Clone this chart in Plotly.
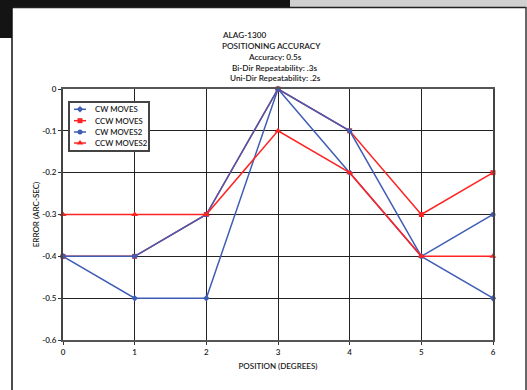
import plotly.graph_objects as go

positions = [0, 1, 2, 3, 4, 5, 6]
cw_moves = [-0.4, -0.5, -0.5, 0.0, -0.2, -0.4, -0.5]
ccw_moves = [-0.4, -0.4, -0.3, 0.0, -0.1, -0.3, -0.2]
cw_moves2 = [-0.4, -0.4, -0.3, 0.0, -0.1, -0.4, -0.3]
ccw_moves2 = [-0.3, -0.3, -0.3, -0.1, -0.2, -0.4, -0.4]

series_names = ["CW MOVES", "CCW MOVES", "CW MOVES2", "CCW MOVES2"]

y_ticks = [0, -0.1, -0.2, -0.3, -0.4, -0.5, -0.6]
y_tick_labels = ["0", "-0.1", "-0.2", "-0.3", "-0.4", "-0.5", "-0.6"]

title_lines_left = ["ALAG-1300", "POSITIONING ACCURACY"]
title_lines_center = ["Accuracy: 0.5s", "Bi-Dir Repeatability: .3s", "Uni-Dir Repeatability: .2s"]

BLUE = "#3f5db5"
RED = "#ff2424"
FONT = "Lato"
WT = 600
TXT = "#1a1a1a"
W, H = 527, 390
L, R, T, B = 63, 493, 89, 340

# legend box (pixels)
LG_L, LG_R, LG_T, LG_B = 70, 148, 103, 150
LG_ROWS = [109.3, 120.7, 132.0, 143.0]


def px(x):
    return (x - L) / (R - L)


def py(y):
    return (B - y) / (B - T)


def fnt(size):
    return dict(family=FONT, size=size, color=TXT, weight=WT)


fig = go.Figure()
styles = [
    (cw_moves, BLUE, "diamond", 5),
    (ccw_moves, RED, "square", 5),
    (cw_moves2, BLUE, "circle", 5),
    (ccw_moves2, RED, "triangle-up", 6),
]
for name, (vals, col, sym, sz) in zip(series_names, styles):
    fig.add_trace(go.Scatter(
        x=positions, y=vals, name=name, mode="lines+markers",
        line=dict(color=col, width=1.5),
        marker=dict(color=col, symbol=sym, size=sz),
        cliponaxis=False, showlegend=False,
    ))

# legend drawn as an inset subplot (x2/y2 in pixel-like units)
annotations = []
for name, (vals, col, sym, sz), yy in zip(series_names, styles, LG_ROWS):
    fig.add_trace(go.Scatter(
        x=[74, 80, 86], y=[yy, yy, yy], mode="lines", xaxis="x2", yaxis="y2",
        line=dict(color=col, width=1.5), showlegend=False, hoverinfo="skip",
    ))
    fig.add_trace(go.Scatter(
        x=[80], y=[yy], mode="markers", xaxis="x2", yaxis="y2",
        marker=dict(color=col, symbol=sym, size=sz), showlegend=False, hoverinfo="skip",
    ))
    annotations.append(dict(text=name, xref="x2", yref="y2", x=92.5, y=yy,
                            xanchor="left", yanchor="middle", showarrow=False,
                            font=fnt(7.8)))

shapes = [
    dict(type="rect", xref="paper", yref="paper", x0=px(0), x1=px(290), y0=py(7), y1=py(0),
         fillcolor="#141414", line=dict(width=0), layer="below"),
    dict(type="rect", xref="paper", yref="paper", x0=px(290), x1=px(527), y0=py(7), y1=py(0),
         fillcolor="#d0d0d0", line=dict(width=0), layer="below"),
    dict(type="rect", xref="paper", yref="paper", x0=px(0), x1=px(12), y0=py(38), y1=py(0),
         fillcolor="#141414", line=dict(width=0), layer="below"),
    dict(type="line", xref="paper", yref="paper", x0=px(12), x1=px(526), y0=py(7.5), y1=py(7.5),
         line=dict(color="#222", width=1.5)),
    dict(type="line", xref="paper", yref="paper", x0=px(12), x1=px(12), y0=py(7), y1=py(390),
         line=dict(color="#111", width=1.5)),
    dict(type="line", xref="paper", yref="paper", x0=px(526), x1=px(526), y0=py(7), y1=py(390),
         line=dict(color="#333", width=1.5)),
]

for txt, yy in zip(title_lines_left, [35, 46]):
    annotations.append(dict(text=txt, xref="paper", yref="paper", x=px(220), y=py(yy),
                            xanchor="left", yanchor="middle", showarrow=False,
                            font=fnt(8.2)))
for txt, yy in zip(title_lines_center, [57, 67.5, 78]):
    annotations.append(dict(text=txt, xref="paper", yref="paper", x=px(275), y=py(yy),
                            xanchor="center", yanchor="middle", showarrow=False,
                            font=fnt(8.2)))

fig.update_layout(
    width=W, height=H,
    margin=dict(l=L, r=W - R, t=T, b=H - B, autoexpand=False),
    paper_bgcolor="white", plot_bgcolor="white",
    font=fnt(8),
    shapes=shapes, annotations=annotations,
    showlegend=False,
    xaxis=dict(domain=[0, 1], anchor="y", range=[0, 6], tickvals=positions,
               ticktext=[str(p) for p in positions],
               showgrid=True, gridcolor="#222", gridwidth=1,
               showline=True, linecolor="#555", linewidth=2, mirror=True,
               ticks="outside", ticklen=3, tickcolor="#333",
               zeroline=False,
               title=dict(text="POSITION (DEGREES)", font=fnt(8), standoff=8),
               tickfont=fnt(8)),
    yaxis=dict(domain=[0, 1], anchor="x", range=[-0.6, 0], tickvals=y_ticks,
               ticktext=y_tick_labels,
               showgrid=True, gridcolor="#222", gridwidth=1,
               showline=True, linecolor="#444", linewidth=2, mirror=True,
               ticks="outside", ticklen=3, tickcolor="#333",
               zeroline=False,
               title=dict(text="ERROR (ARC-SEC)", font=fnt(8), standoff=1),
               tickfont=fnt(8)),
    xaxis2=dict(domain=[px(LG_L), px(LG_R)], anchor="y2", range=[LG_L, LG_R],
                showgrid=False, zeroline=False, showticklabels=False, ticks="",
                showline=True, linecolor="#444", linewidth=1.5, mirror=True, fixedrange=True),
    yaxis2=dict(domain=[py(LG_B), py(LG_T)], anchor="x2", range=[LG_B, LG_T],
                showgrid=False, zeroline=False, showticklabels=False, ticks="",
                showline=True, linecolor="#444", linewidth=1.5, mirror=True, fixedrange=True),
)

fig.write_html("out.html", config={"displayModeBar": False},
               post_script="document.body.style.margin='0px';")
